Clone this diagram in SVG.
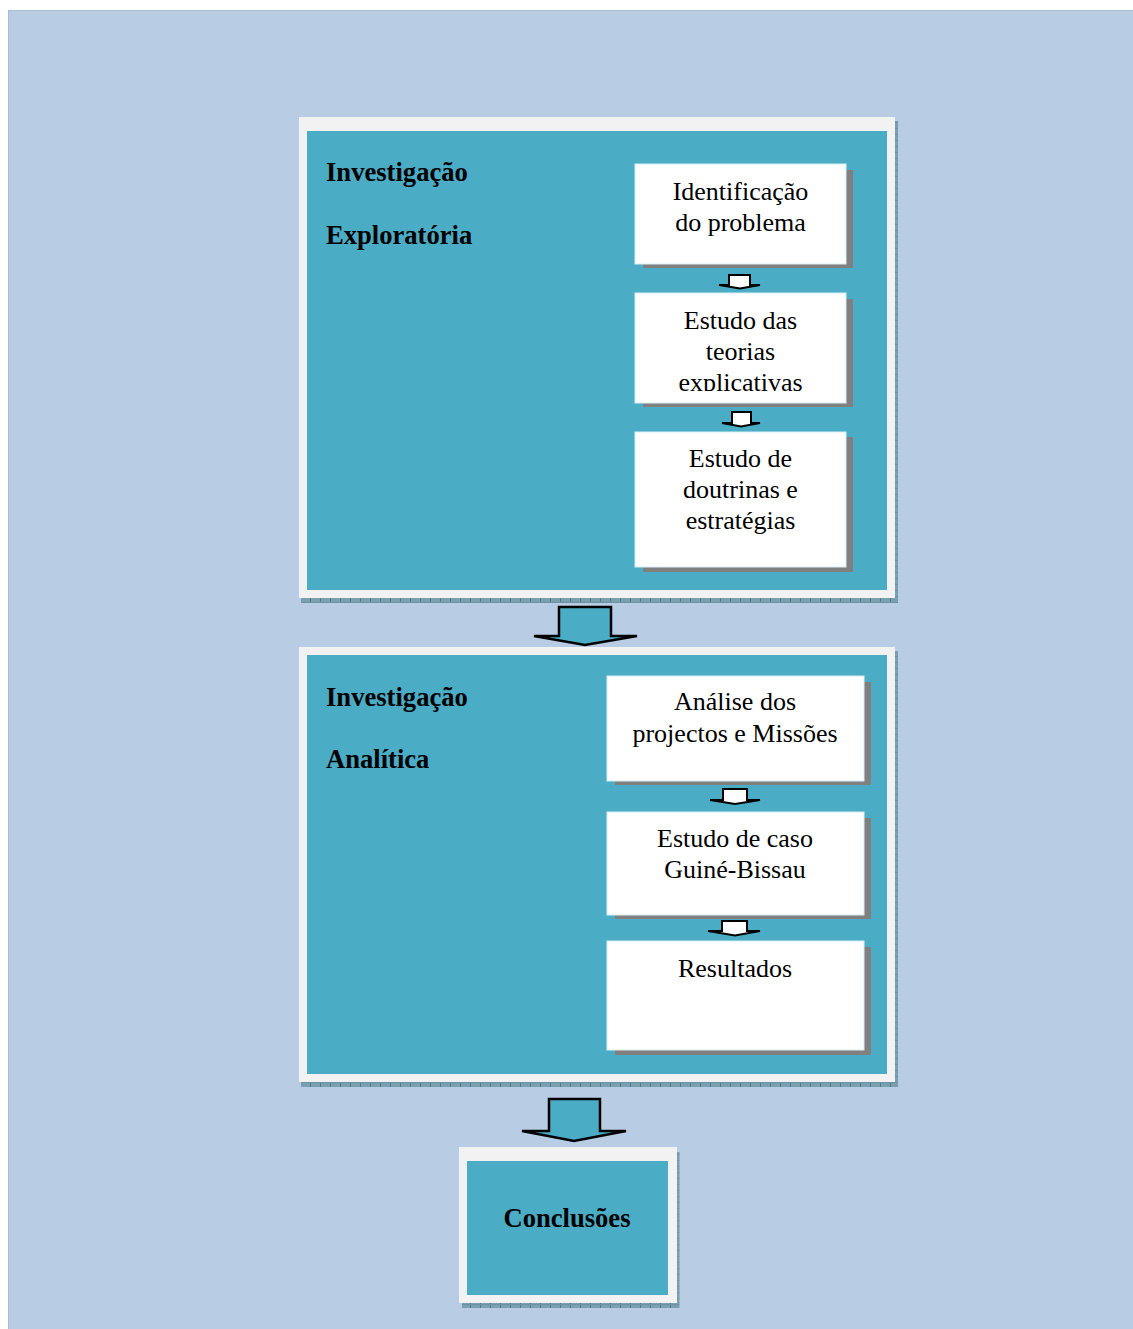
<svg xmlns="http://www.w3.org/2000/svg" width="1133" height="1329" viewBox="0 0 1133 1329">
<defs>
<pattern id="hatch" width="10" height="6" patternUnits="userSpaceOnUse">
<rect width="10" height="6" fill="#7a9fae"/>
<rect x="0" y="0" width="1" height="6" fill="#4f7d8f"/>
<rect x="0" y="2" width="10" height="1" fill="#6b93a3"/>
</pattern>
</defs>
<style>
.frame{fill:#f2f2f2}
.teal{fill:#4bacc6}
.fshadow{fill:url(#hatch)}
.box{fill:#ffffff;stroke:#d6edf3;stroke-width:1}
.bshadow{fill:#808080}
.t{font-family:"Liberation Serif","Times New Roman",serif;font-size:26px;fill:#000;text-anchor:middle}
.h{font-family:"Liberation Serif","Times New Roman",serif;font-size:26.6px;font-weight:bold;fill:#000}
.sa{fill:#ffffff;stroke:#000;stroke-width:2;stroke-linejoin:miter}
.ba{fill:#4bacc6;stroke:#000;stroke-width:2.5;stroke-linejoin:miter}
</style>
<rect x="0" y="0" width="1133" height="1329" fill="#ffffff"/>
<rect x="8" y="10" width="1125" height="1319" fill="#b8cce4"/>
<line x1="8" y1="10.5" x2="1133" y2="10.5" stroke="#a7bcd6" stroke-width="1"/>
<line x1="8.5" y1="10" x2="8.5" y2="1329" stroke="#a7bcd6" stroke-width="1"/>

<g id="frame-exploratoria">
<rect class="fshadow" x="301" y="598" width="597" height="5"/>
<rect class="fshadow" x="895" y="121" width="3" height="482"/>
<rect class="frame" x="299" y="117" width="596" height="481"/>
<rect class="teal" x="307" y="131" width="580" height="459"/>
<text class="h" x="326" y="181">Investigação</text>
<text class="h" x="326" y="244">Exploratória</text>
</g>

<g id="node-identificacao">
<rect class="bshadow" x="643" y="170" width="210" height="98"/>
<rect class="box" x="635" y="164" width="211" height="100"/>
<text class="t" x="740.5" y="200">Identificação</text>
<text class="t" x="740.5" y="231">do problema</text>
</g>

<g id="node-teorias">
<clipPath id="clipTeorias"><rect x="635" y="293" width="211" height="98"/></clipPath>
<rect class="bshadow" x="643" y="299" width="210" height="108"/>
<rect class="box" x="635" y="293" width="211" height="110"/>
<g clip-path="url(#clipTeorias)">
<text class="t" x="740.5" y="329">Estudo das</text>
<text class="t" x="740.5" y="360">teorias</text>
<text class="t" x="740.5" y="391">explicativas</text>
</g>
</g>

<g id="node-doutrinas">
<rect class="bshadow" x="643" y="437" width="210" height="135"/>
<rect class="box" x="635" y="432" width="211" height="135"/>
<text class="t" x="740.5" y="467">Estudo de</text>
<text class="t" x="740.5" y="498">doutrinas e</text>
<text class="t" x="740.5" y="529">estratégias</text>
</g>

<g id="frame-analitica">
<rect class="fshadow" x="301" y="1082" width="597" height="5"/>
<rect class="fshadow" x="895" y="651" width="3" height="436"/>
<rect class="frame" x="299" y="647" width="596" height="435"/>
<rect class="teal" x="307" y="655" width="580" height="419"/>
<text class="h" x="326" y="706">Investigação</text>
<text class="h" x="326" y="768">Analítica</text>
</g>

<g id="node-analise">
<rect class="bshadow" x="615" y="682" width="256" height="103"/>
<rect class="box" x="607" y="676" width="257" height="105"/>
<text class="t" x="735" y="710">Análise dos</text>
<text class="t" x="735" y="742">projectos e Missões</text>
</g>

<g id="node-caso">
<rect class="bshadow" x="615" y="818" width="256" height="101"/>
<rect class="box" x="607" y="812" width="257" height="103"/>
<text class="t" x="735" y="847">Estudo de caso</text>
<text class="t" x="735" y="878">Guiné-Bissau</text>
</g>

<g id="node-resultados">
<rect class="bshadow" x="615" y="947" width="256" height="108"/>
<rect class="box" x="607" y="941" width="257" height="109"/>
<text class="t" x="735" y="977">Resultados</text>
</g>

<g id="node-conclusoes">
<rect class="fshadow" x="462" y="1303" width="217" height="5"/>
<rect class="fshadow" x="677" y="1152" width="2.5" height="156"/>
<rect class="frame" x="459" y="1147" width="218" height="156"/>
<rect class="teal" x="467" y="1161" width="201" height="134"/>
<text class="h" x="567" y="1227" text-anchor="middle">Conclusões</text>
</g>

<g id="connectors">
<path class="sa" d="M729,275 H750 V285 H760 L740,288.5 L719,285 H729 Z"/>
<path class="sa" d="M732,412 H751 V423 H760 L741,426.5 L722,423 H732 Z"/>
<path class="ba" d="M559,607 H611 V636 H637 L585,645 L534,636 H559 Z"/>
<path class="sa" d="M723,789 H747 V800 H760 L735,804 L710,800 H723 Z"/>
<path class="sa" d="M722,921 H747 V931 H760 L735,935.5 L708,931 H722 Z"/>
<path class="ba" d="M549,1099 H600 V1131 H626 L574,1141 L522,1131 H549 Z"/>
</g>
</svg>
